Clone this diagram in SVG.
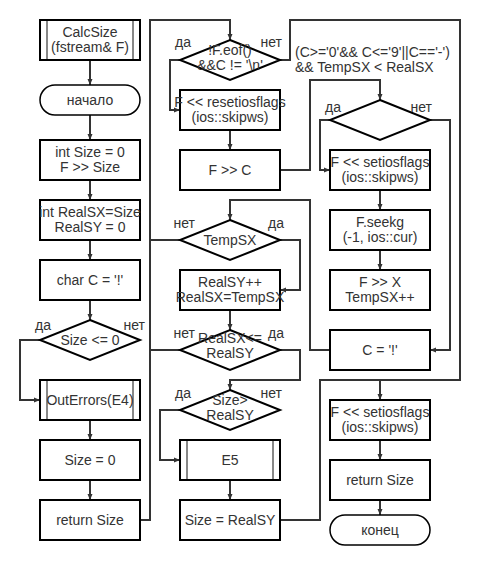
<svg xmlns="http://www.w3.org/2000/svg" width="480" height="565" viewBox="0 0 480 565">
<style>
.box{fill:#fff;stroke:#000;stroke-width:2}
.term{fill:#fff;stroke:#000;stroke-width:1.5}
.inner{stroke:#888;stroke-width:2;fill:none}
.c{fill:none;stroke:#333;stroke-width:2}
.ca{fill:none;stroke:#333;stroke-width:2;marker-end:url(#ah)}
text{font-family:"Liberation Sans",Arial,sans-serif;font-size:14px;fill:#333}
.m{text-anchor:middle}
.e{text-anchor:end}
</style>
<defs>
<marker id="ah" markerUnits="userSpaceOnUse" markerWidth="7" markerHeight="6" refX="6" refY="3" orient="auto">
<path d="M0,0.5 L6,3 L0,5.5 z" fill="#333"/>
</marker>
</defs>
<rect width="480" height="565" fill="#fff"/>
<g id="connectors">
<path class="ca" d="M90,60 V85"/>
<path class="ca" d="M90,115 V140"/>
<path class="ca" d="M90,180 V200"/>
<path class="ca" d="M90,240 V260"/>
<path class="ca" d="M90,300 V320"/>
<path class="ca" d="M40,340 H20 V400 H40"/>
<path class="ca" d="M90,420 V440"/>
<path class="ca" d="M90,480 V500"/>
<path class="ca" d="M140,520 H150 V20 H230 V40"/>
<path class="c" d="M180,240 H150"/>
<path class="c" d="M180,350 H150"/>
<path class="ca" d="M180,60 H170 V110 H180"/>
<path class="ca" d="M280,60 H290 V20 H460 V380 H380 V400"/>
<path class="ca" d="M230,130 V150"/>
<path class="ca" d="M280,170 H310 V80 H380 V100"/>
<path class="ca" d="M330,120 H320 V170 H330"/>
<path class="ca" d="M430,120 H450 V350 H430"/>
<path class="ca" d="M380,190 V210"/>
<path class="ca" d="M380,250 V270"/>
<path class="ca" d="M330,350 H310 V200 H230 V220"/>
<path class="ca" d="M280,240 H300 V290 H280"/>
<path class="ca" d="M230,310 V330"/>
<path class="ca" d="M280,350 H300 V380 H230 V390"/>
<path class="ca" d="M180,410 H160 V460 H180"/>
<path class="ca" d="M230,480 V500"/>
<path class="c" d="M280,520 H320 V380 H380"/>
<path class="ca" d="M380,440 V460"/>
<path class="ca" d="M380,500 V515"/>
</g>
<g id="calcsize">
<rect class="box" x="40" y="20" width="100" height="40"/>
<path class="inner" d="M47,21 V59 M133,21 V59"/>
<text class="m" x="90" y="37">CalcSize</text>
<text class="m" x="90" y="52">(fstream&amp; F)</text>
</g>
<g id="start">
<rect class="term" x="40" y="85" width="100" height="30" rx="15"/>
<text class="m" x="90" y="105">начало</text>
</g>
<g id="intsize">
<rect class="box" x="40" y="140" width="100" height="40"/>
<text class="m" x="90" y="157">int Size = 0</text>
<text class="m" x="90" y="172">F &gt;&gt; Size</text>
</g>
<g id="realsx">
<rect class="box" x="40" y="200" width="100" height="40"/>
<text class="m" x="90" y="217">int RealSX=Size</text>
<text class="m" x="90" y="232">RealSY = 0</text>
</g>
<g id="charc">
<rect class="box" x="40" y="260" width="100" height="40"/>
<text class="m" x="90" y="285">char C = '!'</text>
</g>
<g id="sizele0">
<polygon class="box" points="90,320 140,340 90,360 40,340"/>
<text class="m" x="90" y="345">Size &lt;= 0</text>
<text x="35" y="330">да</text>
<text class="e" x="145" y="330">нет</text>
</g>
<g id="outerrors">
<rect class="box" x="40" y="380" width="100" height="40"/>
<path class="inner" d="M47,381 V419 M133,381 V419"/>
<text class="m" x="90" y="405">OutErrors(E4)</text>
</g>
<g id="size0">
<rect class="box" x="40" y="440" width="100" height="40"/>
<text class="m" x="90" y="465">Size = 0</text>
</g>
<g id="return1">
<rect class="box" x="40" y="500" width="100" height="40"/>
<text class="m" x="90" y="525">return Size</text>
</g>
<g id="eof">
<polygon class="box" points="230,40 280,60 230,80 180,60"/>
<text class="m" x="230" y="55">!F.eof()</text>
<text class="m" x="230" y="70">&amp;&amp;C != '\n'</text>
<text x="175" y="47">да</text>
<text class="e" x="282" y="47">нет</text>
</g>
<g id="reset">
<rect class="box" x="180" y="90" width="100" height="40"/>
<text class="m" x="230" y="107">F &lt;&lt; resetiosflags</text>
<text class="m" x="230" y="122">(ios::skipws)</text>
</g>
<g id="fc">
<rect class="box" x="180" y="150" width="100" height="40"/>
<text class="m" x="230" y="175">F &gt;&gt; C</text>
</g>
<g id="tempsx">
<polygon class="box" points="230,220 280,240 230,260 180,240"/>
<text class="m" x="230" y="245">TempSX</text>
<text class="e" x="195" y="228">нет</text>
<text x="268" y="228">да</text>
</g>
<g id="realsy">
<rect class="box" x="180" y="270" width="100" height="40"/>
<text class="m" x="230" y="287">RealSY++</text>
<text class="m" x="230" y="302">RealSX=TempSX</text>
</g>
<g id="cmp">
<polygon class="box" points="230,330 280,350 230,370 180,350"/>
<text class="m" x="230" y="343">RealSX&lt;=</text>
<text class="m" x="230" y="358">RealSY</text>
<text class="e" x="195" y="338">нет</text>
<text x="268" y="338">да</text>
</g>
<g id="sizegt">
<polygon class="box" points="230,390 280,410 230,430 180,410"/>
<text class="m" x="230" y="405">Size&gt;</text>
<text class="m" x="230" y="420">RealSY</text>
<text x="175" y="398">да</text>
<text class="e" x="282" y="398">нет</text>
</g>
<g id="e5">
<rect class="box" x="180" y="440" width="100" height="40"/>
<path class="inner" d="M187,441 V479 M273,441 V479"/>
<text class="m" x="230" y="465">E5</text>
</g>
<g id="sizerealsy">
<rect class="box" x="180" y="500" width="100" height="40"/>
<text class="m" x="230" y="525">Size = RealSY</text>
</g>
<g id="cond">
<text x="295" y="57">(C&gt;='0'&amp;&amp; C&lt;='9'||C=='-')</text>
<text x="295" y="72">&amp;&amp; TempSX &lt; RealSX</text>
<polygon class="box" points="380,100 430,120 380,140 330,120"/>
<text x="325" y="112">да</text>
<text class="e" x="432" y="112">нет</text>
</g>
<g id="setflags1">
<rect class="box" x="330" y="150" width="100" height="40"/>
<text class="m" x="380" y="167">F &lt;&lt; setiosflags</text>
<text class="m" x="380" y="182">(ios::skipws)</text>
</g>
<g id="seekg">
<rect class="box" x="330" y="210" width="100" height="40"/>
<text class="m" x="380" y="227">F.seekg</text>
<text class="m" x="380" y="242">(-1, ios::cur)</text>
</g>
<g id="fx">
<rect class="box" x="330" y="270" width="100" height="40"/>
<text class="m" x="380" y="287">F &gt;&gt; X</text>
<text class="m" x="380" y="302">TempSX++</text>
</g>
<g id="cexcl">
<rect class="box" x="330" y="330" width="100" height="40"/>
<text class="m" x="380" y="355">C = '!'</text>
</g>
<g id="setflags2">
<rect class="box" x="330" y="400" width="100" height="40"/>
<text class="m" x="380" y="417">F &lt;&lt; setiosflags</text>
<text class="m" x="380" y="432">(ios::skipws)</text>
</g>
<g id="return2">
<rect class="box" x="330" y="460" width="100" height="40"/>
<text class="m" x="380" y="485">return Size</text>
</g>
<g id="end">
<rect class="term" x="330" y="515" width="100" height="30" rx="15"/>
<text class="m" x="380" y="535">конец</text>
</g>
</svg>
